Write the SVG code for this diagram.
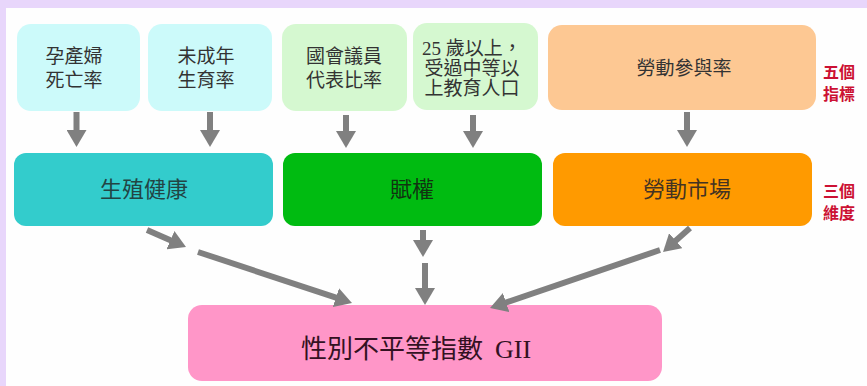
<svg xmlns="http://www.w3.org/2000/svg" width="867" height="386" viewBox="0 0 867 386">
<style>
.t{font-family:"Liberation Serif","Noto Sans CJK TC",serif;fill:#333333;text-anchor:middle}
.s{font-size:19px}
.m{font-size:22px}
.r{font-family:"Noto Sans CJK TC",sans-serif;fill:#cc1133;font-size:16px;font-weight:bold}
.a{stroke:#808080;stroke-width:6;fill:none;marker-end:url(#ah)}
</style>
<defs>
<marker id="ah" markerUnits="userSpaceOnUse" markerWidth="18" markerHeight="20" refX="5" refY="10" orient="auto">
<path d="M0,0 L17,10 L0,20 Z" fill="#808080"/>
</marker>
</defs>
<rect x="0" y="0" width="867" height="386" fill="#e8d6fb"/>
<rect x="6" y="8" width="861" height="378" fill="#fefefe"/>

<g id="n1"><rect x="17" y="24" width="123" height="87" rx="14" fill="#ccfafa"/>
<text class="t s" x="74" y="63">孕產婦</text><text class="t s" x="74" y="87">死亡率</text></g>
<g id="n2"><rect x="148" y="24" width="124" height="87" rx="14" fill="#ccfafa"/>
<text class="t s" x="206" y="63">未成年</text><text class="t s" x="206" y="87">生育率</text></g>
<g id="n3"><rect x="282" y="24" width="125" height="87" rx="14" fill="#d5f8d0"/>
<text class="t s" x="344" y="63">國會議員</text><text class="t s" x="344" y="87">代表比率</text></g>
<g id="n4"><rect x="413" y="23" width="125" height="87" rx="14" fill="#d5f8d0"/>
<text class="t s" x="472" y="55">25 歲以上，</text><text class="t s" x="472" y="75">受過中等以</text><text class="t s" x="472" y="95">上教育人口</text></g>
<g id="n5"><rect x="548" y="25" width="268" height="85" rx="14" fill="#fdc893"/>
<text class="t s" x="684" y="75">勞動參與率</text></g>
<g id="lab1"><text class="r" x="823" y="78">五個</text><text class="r" x="823" y="100">指標</text></g>

<g id="d1"><rect x="14" y="153" width="259" height="73" rx="12" fill="#33cccc"/>
<text class="t m" x="144" y="197" style="fill:#224444">生殖健康</text></g>
<g id="d2"><rect x="283" y="153" width="259" height="73" rx="12" fill="#00bb11"/>
<text class="t m" x="412" y="197" style="fill:#113311">賦權</text></g>
<g id="d3"><rect x="553" y="153" width="259" height="73" rx="12" fill="#ff9a00"/>
<text class="t m" x="687" y="197" style="fill:#443322">勞動市場</text></g>
<g id="lab2"><text class="r" x="823" y="197">三個</text><text class="r" x="823" y="219">維度</text></g>

<g id="gii"><rect x="188" y="305" width="474" height="76" rx="14" fill="#ff96c8"/>
<text class="t" x="416" y="358" style="font-size:26px;fill:#331122">性別不平等指數<tspan dx="12">GII</tspan></text></g>

<g id="connectors">
<line class="a" x1="76.5" y1="112" x2="76.5" y2="135"/>
<line class="a" x1="210" y1="112" x2="210" y2="135"/>
<line class="a" x1="346" y1="115" x2="346" y2="136"/>
<line class="a" x1="473" y1="115" x2="473" y2="136"/>
<line class="a" x1="687" y1="112" x2="687" y2="135"/>
<line class="a" x1="147" y1="230" x2="175" y2="242.2"/>
<line class="a" x1="198" y1="252" x2="340.6" y2="299.2"/>
<line class="a" x1="423" y1="230" x2="423" y2="245"/>
<line class="a" x1="425" y1="263" x2="425" y2="293"/>
<line class="a" x1="690" y1="228" x2="672" y2="244"/>
<line class="a" x1="660" y1="250" x2="501.4" y2="304.1"/>
</g>
</svg>
